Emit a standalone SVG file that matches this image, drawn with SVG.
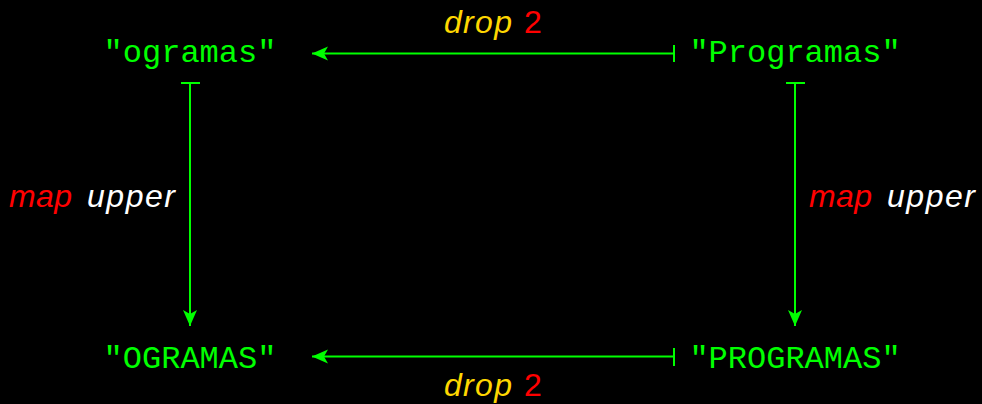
<svg xmlns="http://www.w3.org/2000/svg" width="982" height="404" viewBox="0 0 982 404">
<defs>
<style>
.node{font-family:"Liberation Mono","DejaVu Sans Mono",monospace;font-size:32px;fill:#00ff00;text-anchor:middle}
.lbl{font-family:"Liberation Sans","DejaVu Sans",sans-serif;font-size:32px}
.it{font-style:italic}
.y{fill:#ffd700}.r{fill:#ff0000}.w{fill:#ffffff}
.edge{stroke:#00ff00;stroke-width:2;fill:none}
</style>
<marker id="ah" markerUnits="userSpaceOnUse" markerWidth="20" markerHeight="16" viewBox="-17 -8 18 16" refX="0" refY="0" orient="auto">
<path d="M0,0 L-16,-7 L-12,0 L-16,7 Z" fill="#00ff00"/>
</marker>
</defs>
<rect width="982" height="404" fill="#000000"/>
<g id="n1"><text class="node" x="190" y="62">"ogramas"</text></g>
<g id="n2"><text class="node" x="795" y="62">"Programas"</text></g>
<g id="n3"><text class="node" x="190" y="368">"OGRAMAS"</text></g>
<g id="n4"><text class="node" x="795" y="368">"PROGRAMAS"</text></g>
<g id="edges">
<line class="edge" x1="674" y1="53.5" x2="312" y2="53.5" marker-end="url(#ah)"/>
<line class="edge" x1="674" y1="45" x2="674" y2="62"/>
<line class="edge" x1="674" y1="356.5" x2="312" y2="356.5" marker-end="url(#ah)"/>
<line class="edge" x1="674" y1="348" x2="674" y2="366"/>
<line class="edge" x1="190" y1="83" x2="190" y2="326" marker-end="url(#ah)"/>
<line class="edge" x1="181" y1="83" x2="200" y2="83"/>
<line class="edge" x1="795" y1="83" x2="795" y2="326" marker-end="url(#ah)"/>
<line class="edge" x1="786" y1="83" x2="805" y2="83"/>
</g>
<g id="labels">
<text class="lbl it y" x="444" y="32.5" textLength="68">drop</text>
<text class="lbl r" x="524" y="32.5">2</text>
<text class="lbl it y" x="444" y="395.5" textLength="68">drop</text>
<text class="lbl r" x="524" y="395.5">2</text>
<text class="lbl it r" x="9" y="207" textLength="63">map</text>
<text class="lbl it w" x="87" y="207" textLength="88">upper</text>
<text class="lbl it r" x="809" y="207" textLength="63">map</text>
<text class="lbl it w" x="887" y="207" textLength="88">upper</text>
</g>
</svg>
